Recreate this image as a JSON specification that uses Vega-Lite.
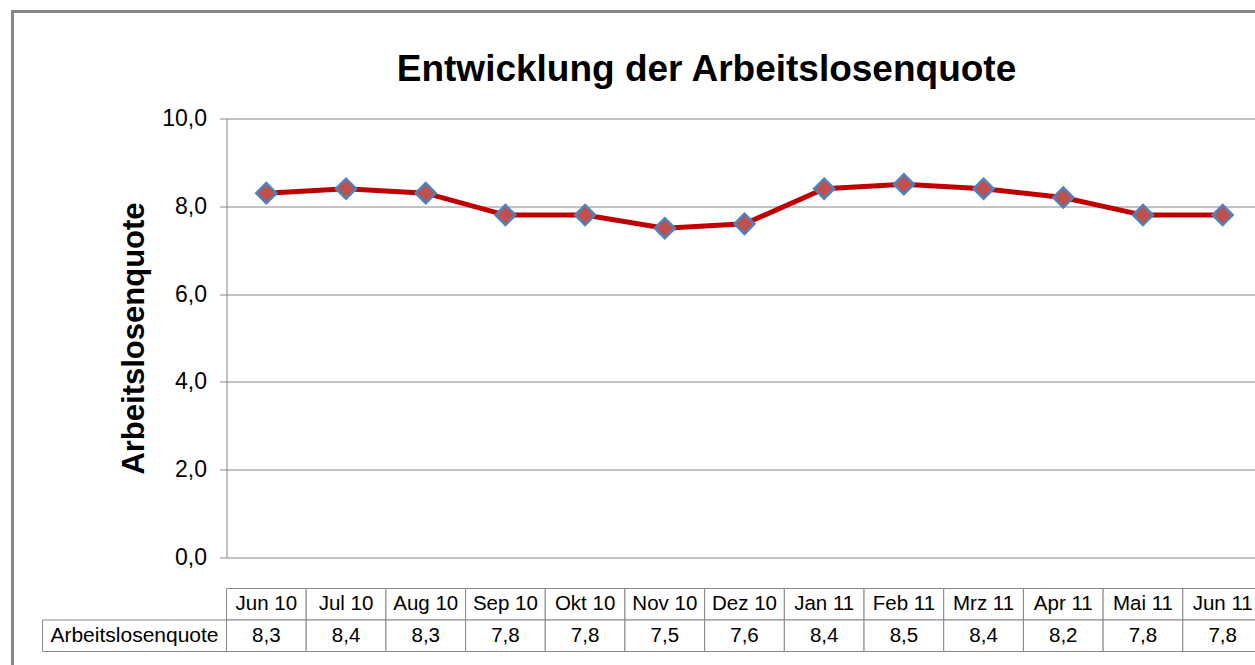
{
  "$schema": "https://vega.github.io/schema/vega-lite/v6.json",
  "background": "white",
  "padding": {"left": 10.5, "top": 9.5, "right": 0, "bottom": 0},
  "config": {
    "view": {"stroke": null},
    "font": "Liberation Sans",
    "locale": {"number": {"decimal": ",", "thousands": ".", "grouping": [3], "currency": ["", " €"]}}
  },
  "datasets": {
    "quote": [
      {"monat": "Jun 10", "quote": 8.3},
      {"monat": "Jul 10", "quote": 8.4},
      {"monat": "Aug 10", "quote": 8.3},
      {"monat": "Sep 10", "quote": 7.8},
      {"monat": "Okt 10", "quote": 7.8},
      {"monat": "Nov 10", "quote": 7.5},
      {"monat": "Dez 10", "quote": 7.6},
      {"monat": "Jan 11", "quote": 8.4},
      {"monat": "Feb 11", "quote": 8.5},
      {"monat": "Mrz 11", "quote": 8.4},
      {"monat": "Apr 11", "quote": 8.2},
      {"monat": "Mai 11", "quote": 7.8},
      {"monat": "Jun 11", "quote": 7.8}
    ]
  },
  "vconcat": [
    {
      "width": 1036,
      "height": 439,
      "title": {
        "text": "Entwicklung der Arbeitslosenquote",
        "fontSize": 37,
        "fontWeight": "bold",
        "font": "Liberation Sans",
        "color": "black",
        "anchor": "middle",
        "frame": "group",
        "dx": -38,
        "baseline": "bottom",
        "offset": -116
      },
      "resolve": {"scale": {"x": "independent", "y": "independent"}},
      "layer": [
        {
          "data": {"values": [{"bereich": "Diagrammbereich"}]},
          "mark": {"type": "rect", "filled": false, "stroke": "#878787", "strokeWidth": 3},
          "encoding": {
            "x": {"field": "bereich", "type": "nominal", "axis": null,
                  "scale": {"type": "band", "range": [-214, 1100], "paddingInner": 0, "paddingOuter": 0}},
            "y": {"field": "bereich", "type": "nominal", "axis": null,
                  "scale": {"type": "band", "range": [-107, 560], "paddingInner": 0, "paddingOuter": 0}}
          }
        },
        {
          "data": {"name": "quote"},
          "encoding": {
            "x": {"field": "monat", "type": "nominal", "sort": null, "axis": null,
                  "scale": {"type": "band", "paddingInner": 0, "paddingOuter": 0}},
            "y": {"field": "quote", "type": "quantitative",
                  "scale": {"domain": [0, 10], "nice": false},
                  "axis": {
                    "orient": "left",
                    "values": [0, 2, 4, 6, 8, 10],
                    "labelExpr": "replace(format(datum.value, '.1f'), '.', ',')",
                    "labelFontSize": 23,
                    "labelColor": "black",
                    "labelFont": "Liberation Sans",
                    "labelPadding": 13,
                    "tickSize": 7,
                    "tickColor": "#878787",
                    "domainColor": "#878787",
                    "gridColor": "#878787",
                    "grid": true,
                    "title": "Arbeitslosenquote",
                    "titleFontSize": 31,
                    "titleFontWeight": "bold",
                    "titleColor": "black",
                    "titleFont": "Liberation Sans",
                    "titlePadding": 11
                  }}
          },
          "layer": [
            {"mark": {"type": "line", "color": "#C00000", "strokeWidth": 5}},
            {"mark": {"type": "point", "shape": "diamond", "filled": true, "fill": "#C0504D",
                      "stroke": "#4F81BD", "strokeWidth": 2.5, "size": 400, "opacity": 1}}
          ]
        }
      ]
    },
    {
      "width": 1036,
      "height": 63,
      "resolve": {"scale": {"x": "independent"}},
      "layer": [
        {
          "data": {"values": [{"zeile": "Arbeitslosenquote"}]},
          "encoding": {
            "x": {"field": "zeile", "type": "nominal", "axis": null,
                  "scale": {"type": "band", "range": [-184, 0], "paddingInner": 0, "paddingOuter": 0}},
            "y": {"field": "zeile", "type": "nominal", "axis": null,
                  "scale": {"type": "band", "domain": ["Monat", "Arbeitslosenquote"], "paddingInner": 0, "paddingOuter": 0}}
          },
          "layer": [
            {"mark": {"type": "rect", "fill": "white", "stroke": "#878787", "strokeWidth": 1}},
            {"mark": {"type": "text", "fontSize": 21, "color": "black", "font": "Liberation Sans"},
             "encoding": {"text": {"field": "zeile"}}}
          ]
        },
        {
          "data": {"name": "quote"},
          "layer": [
            {
              "mark": {"type": "rect", "fill": "white", "stroke": "#878787", "strokeWidth": 1},
              "encoding": {
                "x": {"field": "monat", "type": "nominal", "sort": null, "axis": null,
                      "scale": {"type": "band", "paddingInner": 0, "paddingOuter": 0}},
                "y": {"datum": "Monat", "type": "nominal", "axis": null,
                      "scale": {"type": "band", "domain": ["Monat", "Arbeitslosenquote"], "paddingInner": 0, "paddingOuter": 0}}
              }
            },
            {
              "mark": {"type": "rect", "fill": "white", "stroke": "#878787", "strokeWidth": 1},
              "encoding": {
                "x": {"field": "monat", "type": "nominal", "sort": null, "axis": null,
                      "scale": {"type": "band", "paddingInner": 0, "paddingOuter": 0}},
                "y": {"datum": "Arbeitslosenquote", "type": "nominal", "axis": null,
                      "scale": {"type": "band", "domain": ["Monat", "Arbeitslosenquote"], "paddingInner": 0, "paddingOuter": 0}}
              }
            },
            {
              "mark": {"type": "text", "fontSize": 20.5, "color": "black", "font": "Liberation Sans"},
              "encoding": {
                "x": {"field": "monat", "type": "nominal", "sort": null, "axis": null,
                      "scale": {"type": "band", "paddingInner": 0, "paddingOuter": 0}},
                "y": {"datum": "Monat", "type": "nominal", "axis": null,
                      "scale": {"type": "band", "domain": ["Monat", "Arbeitslosenquote"], "paddingInner": 0, "paddingOuter": 0}},
                "text": {"field": "monat"}
              }
            },
            {
              "mark": {"type": "text", "fontSize": 20.5, "color": "black", "font": "Liberation Sans"},
              "encoding": {
                "x": {"field": "monat", "type": "nominal", "sort": null, "axis": null,
                      "scale": {"type": "band", "paddingInner": 0, "paddingOuter": 0}},
                "y": {"datum": "Arbeitslosenquote", "type": "nominal", "axis": null,
                      "scale": {"type": "band", "domain": ["Monat", "Arbeitslosenquote"], "paddingInner": 0, "paddingOuter": 0}},
                "text": {"field": "quote", "type": "quantitative", "format": ".1f"}
              }
            }
          ]
        }
      ]
    }
  ],
  "spacing": 31,
  "bounds": "flush"
}
